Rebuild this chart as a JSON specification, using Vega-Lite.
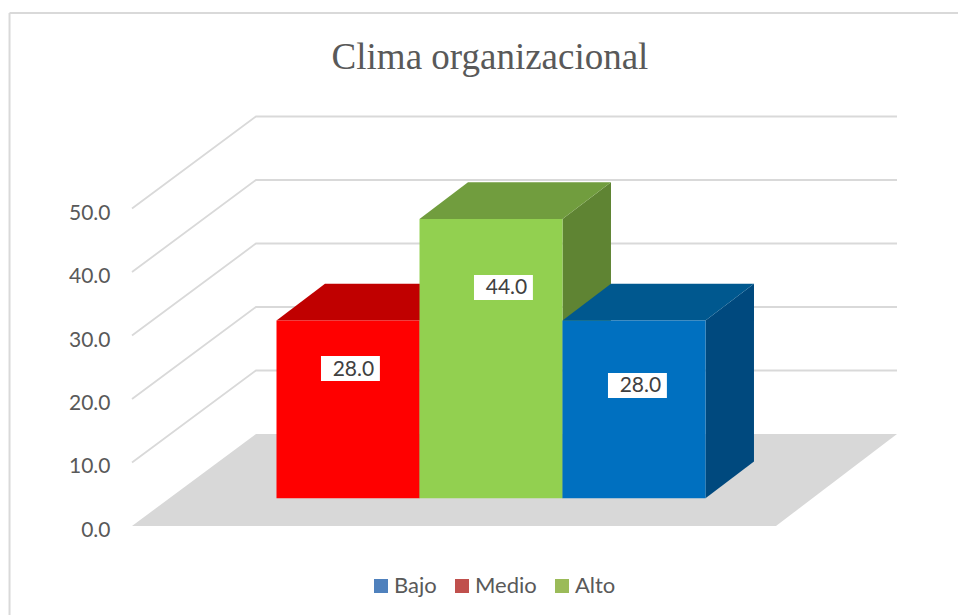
{
"$schema":"https://vega.github.io/schema/vega-lite/v6.json",
"width":958,"height":615,"padding":0,"autosize":{"type":"none"},
"background":"white",
"title":{"text":"Clima organizacional","font":"Liberation Serif","fontSize":37,"fontWeight":"normal","color":"#595959","anchor":"middle","frame":"group","baseline":"alphabetic","offset":0,"dy":106,"dx":11},
"config":{"view":{"stroke":null},"font":"Lato"},
"datasets":{
"barras":[{"categoria":"Medio","valor":28},{"categoria":"Alto","valor":44},{"categoria":"Bajo","valor":28}],
"niveles":[{"nivel":10},{"nivel":20},{"nivel":30},{"nivel":40},{"nivel":50}],
"piso":[{"nivel":0}]
},
"resolve":{"scale":{"color":"independent"},"axis":{"y":"independent"}},
"layer":[
{"data":{"values":[{"borde":"superior"}]},
 "mark":{"type":"rule","color":"#D9D9D9","strokeWidth":2},
 "encoding":{
  "x":{"datum":-1.867,"type":"quantitative","scale":{"domain":[-1.9336,4.7657],"nice":false,"zero":false},"axis":null},
  "x2":{"datum":4.7657},
  "y":{"datum":80.79,"type":"quantitative","scale":{"domain":[-14.016,82.835],"nice":false,"zero":false},
   "axis":{"values":[0,10,20,30,40,50],"format":".1f","title":null,"orient":"left","offset":-132,"domain":false,"ticks":false,"grid":false,"labelPadding":22,"labelFont":"Lato","labelFontSize":21,"labelColor":"#595959","labelOffset":4.5}}}},
{"data":{"values":[{"borde":"izquierdo"}]},
 "mark":{"type":"rule","color":"#D9D9D9","strokeWidth":2},
 "encoding":{
  "x":{"datum":-1.867,"type":"quantitative","scale":{"domain":[-1.9336,4.7657],"nice":false,"zero":false},"axis":null},
  "y":{"datum":80.79,"type":"quantitative","scale":{"domain":[-14.016,82.835],"nice":false,"zero":false},"axis":null},
  "y2":{"datum":-14.016}}},
{"data":{"name":"niveles"},
 "transform":[
  {"calculate":"[-1.0105,-0.1433,4.339]","as":"px"},
  {"calculate":"[datum.nivel,datum.nivel+14.49,datum.nivel+14.49]","as":"py"},
  {"flatten":["px","py"]}],
 "mark":{"type":"line","color":"#D9D9D9","strokeWidth":1.8},
 "encoding":{
  "x":{"field":"px","type":"quantitative","scale":{"domain":[-1.9336,4.7657],"nice":false,"zero":false},"axis":null},
  "y":{"field":"py","type":"quantitative","stack":null,"scale":{"domain":[-14.016,82.835],"nice":false,"zero":false},"axis":null},
  "detail":{"field":"nivel"}}},
{"data":{"name":"piso"},
 "transform":[
  {"calculate":"[-1.0105,-0.1433]","as":"xa"},
  {"calculate":"[3.493,4.339]","as":"xb"},
  {"calculate":"[0,14.49]","as":"py"},
  {"flatten":["xa","xb","py"]}],
 "mark":{"type":"area","orient":"horizontal","color":"#D8D8D8"},
 "encoding":{
  "x":{"field":"xa","type":"quantitative","stack":null,"scale":{"domain":[-1.9336,4.7657],"nice":false,"zero":false},"axis":null},
  "x2":{"field":"xb"},
  "y":{"field":"py","type":"quantitative","scale":{"domain":[-14.016,82.835],"nice":false,"zero":false},"axis":null}}},
{"data":{"name":"barras"},
 "transform":[
  {"calculate":"indexof(['Medio','Alto','Bajo'],datum.categoria)","as":"pos"},
  {"calculate":"[0,1]","as":"t"},{"flatten":["t"]},
  {"calculate":"datum.pos+1+datum.t*0.339","as":"xs"},
  {"calculate":"4.36+datum.t*5.78","as":"ya"},
  {"calculate":"datum.valor+4.36+datum.t*5.78","as":"yb"}],
 "mark":{"type":"area"},
 "encoding":{
  "x":{"field":"xs","type":"quantitative","scale":{"domain":[-1.9336,4.7657],"nice":false,"zero":false},"axis":null},
  "y":{"field":"ya","type":"quantitative","stack":null,"scale":{"domain":[-14.016,82.835],"nice":false,"zero":false},"axis":null},
  "y2":{"field":"yb"},
  "color":{"field":"categoria","type":"nominal","legend":null,"scale":{"domain":["Medio","Alto","Bajo"],"range":["#A00000","#5F8433","#00497E"]}}}},
{"data":{"name":"barras"},
 "transform":[
  {"calculate":"indexof(['Medio','Alto','Bajo'],datum.categoria)","as":"pos"},
  {"calculate":"[0,1]","as":"t"},{"flatten":["t"]},
  {"calculate":"datum.pos+datum.t*0.339","as":"xa"},
  {"calculate":"datum.pos+1+datum.t*0.339","as":"xb"},
  {"calculate":"datum.valor+4.36+datum.t*5.78","as":"yt"}],
 "mark":{"type":"area","orient":"horizontal"},
 "encoding":{
  "x":{"field":"xa","type":"quantitative","stack":null,"scale":{"domain":[-1.9336,4.7657],"nice":false,"zero":false},"axis":null},
  "x2":{"field":"xb"},
  "y":{"field":"yt","type":"quantitative","scale":{"domain":[-14.016,82.835],"nice":false,"zero":false},"axis":null},
  "color":{"field":"categoria","type":"nominal","legend":null,"scale":{"domain":["Medio","Alto","Bajo"],"range":["#C00000","#719D3E","#00588F"]}}}},
{"data":{"name":"barras"},
 "transform":[
  {"calculate":"indexof(['Medio','Alto','Bajo'],datum.categoria)","as":"pos"},
  {"calculate":"datum.pos+1","as":"fin"},
  {"calculate":"4.36","as":"base"},
  {"calculate":"datum.valor+4.36","as":"cima"}],
 "mark":{"type":"rect"},
 "encoding":{
  "x":{"field":"pos","type":"quantitative","scale":{"domain":[-1.9336,4.7657],"nice":false,"zero":false},"axis":null},
  "x2":{"field":"fin"},
  "y":{"field":"base","type":"quantitative","scale":{"domain":[-14.016,82.835],"nice":false,"zero":false},"axis":null},
  "y2":{"field":"cima"},
  "color":{"field":"categoria","type":"nominal","legend":null,"scale":{"domain":["Medio","Alto","Bajo"],"range":["#FF0000","#92D050","#0070C0"]}}}},
{"data":{"name":"barras"},
 "transform":[
  {"calculate":"{'Medio':0.517,'Alto':1.587,'Bajo':2.524}[datum.categoria]","as":"lx"},
  {"calculate":"{'Medio':24.8,'Alto':37.56,'Bajo':22.13}[datum.categoria]","as":"ly"},
  {"calculate":"datum.lx-0.206","as":"x1"},{"calculate":"datum.lx+0.206","as":"x2"},
  {"calculate":"datum.ly-1.97","as":"y1"},{"calculate":"datum.ly+1.97","as":"y2"}],
 "mark":{"type":"rect","color":"white"},
 "encoding":{
  "x":{"field":"x1","type":"quantitative","scale":{"domain":[-1.9336,4.7657],"nice":false,"zero":false},"axis":null},
  "x2":{"field":"x2"},
  "y":{"field":"y1","type":"quantitative","scale":{"domain":[-14.016,82.835],"nice":false,"zero":false},"axis":null},
  "y2":{"field":"y2"}}},
{"data":{"name":"barras"},
 "transform":[
  {"calculate":"{'Medio':0.517,'Alto':1.587,'Bajo':2.524}[datum.categoria]","as":"lx"},
  {"calculate":"{'Medio':24.8,'Alto':37.56,'Bajo':22.13}[datum.categoria]","as":"ly"}],
 "mark":{"type":"text","font":"Lato","fontSize":21,"color":"#404040","align":"center","baseline":"middle","dx":3,"dy":1},
 "encoding":{
  "x":{"field":"lx","type":"quantitative","scale":{"domain":[-1.9336,4.7657],"nice":false,"zero":false},"axis":null},
  "y":{"field":"ly","type":"quantitative","scale":{"domain":[-14.016,82.835],"nice":false,"zero":false},"axis":null},
  "text":{"field":"valor","type":"quantitative","format":".1f"}}},
{"data":{"name":"barras"},
 "transform":[{"calculate":"indexof(['Medio','Alto','Bajo'],datum.categoria)","as":"pos"}],
 "mark":{"type":"point","shape":"square","filled":true,"size":0},
 "encoding":{
  "x":{"field":"pos","type":"quantitative","scale":{"domain":[-1.9336,4.7657],"nice":false,"zero":false},"axis":null},
  "y":{"field":"valor","type":"quantitative","scale":{"domain":[-14.016,82.835],"nice":false,"zero":false},"axis":null},
  "color":{"field":"categoria","type":"nominal","scale":{"domain":["Bajo","Medio","Alto"],"range":["#4F81BD","#C0504D","#9BBB59"]},
   "legend":{"orient":"none","legendX":370,"legendY":575,"direction":"horizontal","title":null,"symbolType":"square","symbolSize":196,"symbolOpacity":1,"labelFont":"Lato","labelFontSize":22,"labelColor":"#595959","labelOffset":2,"columnPadding":14,"padding":0}}}}
]
}
